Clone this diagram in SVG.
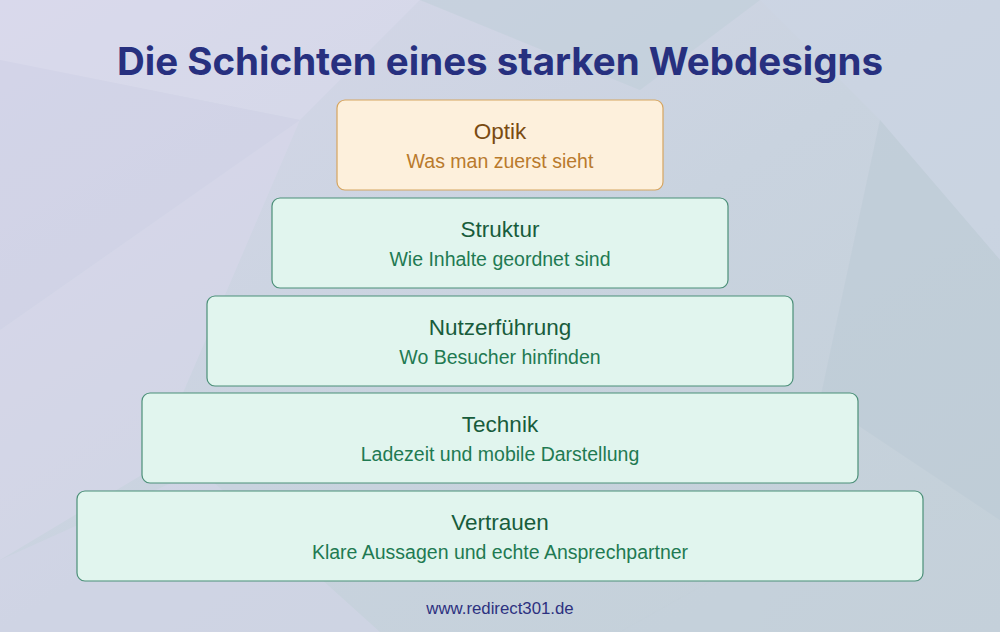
<svg xmlns="http://www.w3.org/2000/svg" width="1000" height="632" viewBox="0 0 1000 632">
<defs>
<linearGradient id="bg" x1="0" y1="0" x2="1" y2="1">
<stop offset="0" stop-color="#d7d7ea"/>
<stop offset="0.5" stop-color="#c9d3df"/>
<stop offset="1" stop-color="#c3d0d8"/>
</linearGradient>
<style>
.title{font-family:Inter,"Liberation Sans",sans-serif;font-weight:700;font-size:38.5px;fill:#27307f;text-anchor:middle}
.box-o{fill:#fdf0dc;stroke:#d6a560;stroke-width:1.2}
.box-g{fill:#e1f5ee;stroke:#4b8f78;stroke-width:1.2}
.h{font-family:"Liberation Sans",Arial,sans-serif;font-size:22.5px;text-anchor:middle}
.s{font-family:"Liberation Sans",Arial,sans-serif;font-size:19.5px;text-anchor:middle}
.ho{fill:#7a4b12}.so{fill:#b97a2c}
.hg{fill:#185c3c}.sg{fill:#1f7a52}
.foot{font-family:"Liberation Sans",Arial,sans-serif;font-size:16.8px;fill:#2d3180;text-anchor:middle}
.facet{stroke:none}
</style>
</defs>
<rect width="1000" height="632" fill="url(#bg)"/>
<g id="background-facets" opacity="0.5">
<polygon class="facet" points="0,0 420,0 300,120 0,60" fill="#dcdcee"/>
<polygon class="facet" points="420,0 760,0 640,90" fill="#bfcfd9"/>
<polygon class="facet" points="760,0 1000,0 1000,260 880,120" fill="#cdd6e6"/>
<polygon class="facet" points="0,60 300,120 0,330" fill="#d2d3e8"/>
<polygon class="facet" points="0,330 300,120 150,470 0,560" fill="#dad8ec"/>
<polygon class="facet" points="880,120 1000,260 1000,520 820,400" fill="#bccbd6"/>
<polygon class="facet" points="0,560 200,470 380,632 0,632" fill="#d6d6ea"/>
<polygon class="facet" points="620,632 820,520 1000,520 1000,632" fill="#c6d1dc"/>
</g>
<text class="title" x="500" y="75">Die Schichten eines starken Webdesigns</text>
<g id="node-optik">
<rect class="box-o" x="337" y="100" width="326" height="90" rx="8"/>
<text class="h ho" x="500" y="139">Optik</text>
<text class="s so" x="500" y="168">Was man zuerst sieht</text>
</g>
<g id="node-struktur">
<rect class="box-g" x="272" y="198" width="456" height="90" rx="8"/>
<text class="h hg" x="500" y="237">Struktur</text>
<text class="s sg" x="500" y="266">Wie Inhalte geordnet sind</text>
</g>
<g id="node-nutzerfuehrung">
<rect class="box-g" x="207" y="296" width="586" height="90" rx="8"/>
<text class="h hg" x="500" y="335">Nutzerführung</text>
<text class="s sg" x="500" y="364">Wo Besucher hinfinden</text>
</g>
<g id="node-technik">
<rect class="box-g" x="142" y="393" width="716" height="90" rx="8"/>
<text class="h hg" x="500" y="432">Technik</text>
<text class="s sg" x="500" y="461">Ladezeit und mobile Darstellung</text>
</g>
<g id="node-vertrauen">
<rect class="box-g" x="77" y="491" width="846" height="90" rx="8"/>
<text class="h hg" x="500" y="530">Vertrauen</text>
<text class="s sg" x="500" y="559">Klare Aussagen und echte Ansprechpartner</text>
</g>
<g id="connectors"/>
<text class="foot" x="500" y="614">www.redirect301.de</text>
</svg>
